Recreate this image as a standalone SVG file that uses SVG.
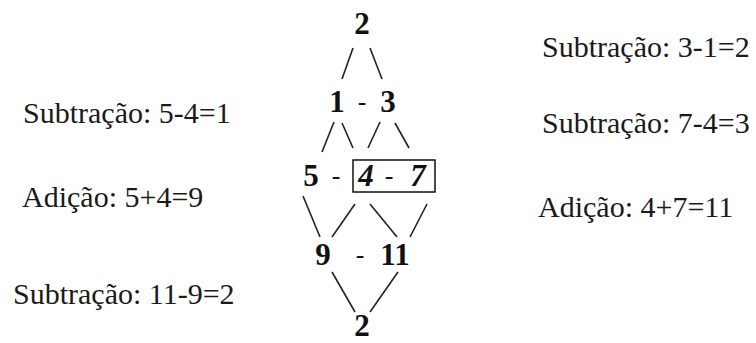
<svg xmlns="http://www.w3.org/2000/svg" width="756" height="343" viewBox="0 0 756 343">
<style>
.lbl{font-family:"Liberation Serif","Times New Roman",serif;font-size:30px;fill:#1a1a1a}
.num{font-family:"Liberation Serif","Times New Roman",serif;font-size:31px;font-weight:bold;fill:#111}
.dash{font-family:"Liberation Serif","Times New Roman",serif;font-size:26px;fill:#111}
.ln{stroke:#222;stroke-width:1.6;fill:none}
</style>
<rect width="756" height="343" fill="#fff"/>
<g id="connectors">
<line class="ln" x1="353" y1="48" x2="342" y2="79"/>
<line class="ln" x1="370" y1="48" x2="382" y2="79"/>
<line class="ln" x1="334" y1="122" x2="322" y2="152"/>
<line class="ln" x1="342" y1="123" x2="353" y2="148"/>
<line class="ln" x1="380" y1="122" x2="368" y2="148"/>
<line class="ln" x1="395" y1="123" x2="409" y2="148"/>
<line class="ln" x1="303" y1="196" x2="320" y2="237"/>
<line class="ln" x1="355" y1="204" x2="332" y2="237"/>
<line class="ln" x1="370" y1="204" x2="397" y2="237"/>
<line class="ln" x1="427" y1="204" x2="410" y2="237"/>
<line class="ln" x1="332" y1="272" x2="355" y2="312"/>
<line class="ln" x1="398" y1="272" x2="370" y2="312"/>
</g>
<g id="n-top"><text class="num" x="362" y="34" text-anchor="middle">2</text></g>
<g id="n-row1">
<text class="num" x="337" y="112" text-anchor="middle">1</text>
<text class="dash" x="362" y="110" text-anchor="middle">-</text>
<text class="num" x="388" y="112" text-anchor="middle">3</text>
</g>
<g id="n-row2">
<text class="num" x="311" y="186" text-anchor="middle">5</text>
<text class="dash" x="336" y="184" text-anchor="middle">-</text>
<rect x="353" y="160" width="82" height="32" fill="none" stroke="#111" stroke-width="1.5"/>
<text class="num" x="366" y="186" text-anchor="middle" font-style="italic">4</text>
<text class="dash" x="389" y="184" text-anchor="middle">-</text>
<text class="num" x="418" y="186" text-anchor="middle" font-style="italic" font-weight="normal" fill="#333">7</text>
</g>
<g id="n-row3">
<text class="num" x="323" y="265" text-anchor="middle">9</text>
<text class="dash" x="360" y="263" text-anchor="middle">-</text>
<text class="num" x="395" y="265" text-anchor="middle">11</text>
</g>
<g id="n-bottom"><text class="num" x="362" y="336" text-anchor="middle">2</text></g>
<g id="labels">
<text class="lbl" x="23" y="123">Subtração: 5-4=1</text>
<text class="lbl" x="22" y="207">Adição: 5+4=9</text>
<text class="lbl" x="13" y="304">Subtração: 11-9=2</text>
<text class="lbl" x="542" y="57">Subtração: 3-1=2</text>
<text class="lbl" x="542" y="133">Subtração: 7-4=3</text>
<text class="lbl" x="538" y="217">Adição: 4+7=11</text>
</g>
</svg>
